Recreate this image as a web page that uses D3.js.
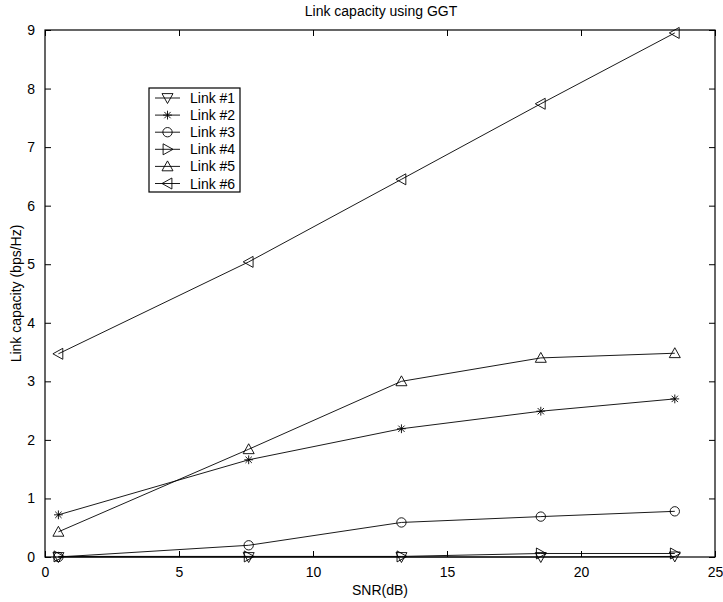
<!DOCTYPE html>
<html>
<head>
<meta charset="utf-8">
<script src="https://cdn.jsdelivr.net/npm/d3@7"></script>
<style>
  html, body { margin: 0; padding: 0; background: #fff; }
  svg text { font-family: "Liberation Sans", Arial, Helvetica, sans-serif; fill: #000; }
</style>
</head>
<body>
<svg id="chart" width="723" height="602"></svg>
<script>
// SNR sample points (dB)
const snr = [0.5, 7.6, 13.3, 18.5, 23.5];

// Link capacity per link (bps/Hz)
const link1 = [0.0, 0.0, 0.0, 0.0, 0.01];
const link2 = [0.72, 1.66, 2.19, 2.49, 2.70];
const link3 = [0.0, 0.2, 0.59, 0.69, 0.78];
const link4 = [0.01, 0.01, 0.01, 0.06, 0.06];
const link5 = [0.43, 1.84, 3.0, 3.40, 3.48];
const link6 = [3.47, 5.04, 6.45, 7.74, 8.95];

const seriesNames = ["Link #1", "Link #2", "Link #3", "Link #4", "Link #5", "Link #6"];
const seriesMarkers = ["triDown", "star", "circle", "triRight", "triUp", "triLeft"];
const seriesValues = [link1, link2, link3, link4, link5, link6];

const xTicks = [0, 5, 10, 15, 20, 25];
const yTicks = [0, 1, 2, 3, 4, 5, 6, 7, 8, 9];

const titleText = "Link capacity using GGT";
const xLabelText = "SNR(dB)";
const yLabelText = "Link capacity (bps/Hz)";

const W = 723, H = 602;
const margin = { left: 45, right: 8, top: 30, bottom: 45 };
const plotW = W - margin.left - margin.right;
const plotH = H - margin.top - margin.bottom;

const svg = d3.select("#chart");
const g = svg.append("g").attr("transform", `translate(${margin.left},${margin.top})`);

const x = d3.scaleLinear().domain([0, 25]).range([0, plotW]);
const y = d3.scaleLinear().domain([0, 9]).range([plotH, 0]);

const tickLen = 6;
const tickFont = 14;

// Axes with inward ticks, MATLAB-style box
const xAxisB = d3.axisBottom(x).tickValues(xTicks).tickSizeInner(-tickLen).tickSizeOuter(0).tickPadding(tickLen + 4);
const xAxisT = d3.axisTop(x).tickValues(xTicks).tickSizeInner(-tickLen).tickSizeOuter(0).tickFormat("");
const yAxisL = d3.axisLeft(y).tickValues(yTicks).tickSizeInner(-tickLen).tickSizeOuter(0).tickPadding(tickLen + 4);
const yAxisR = d3.axisRight(y).tickValues(yTicks).tickSizeInner(-tickLen).tickSizeOuter(0).tickFormat("");

function styleAxis(sel) {
  sel.select(".domain").remove();
  sel.selectAll(".tick line").attr("stroke", "#000").attr("stroke-width", 1);
  sel.selectAll(".tick text").attr("font-size", tickFont).attr("fill", "#000")
    .attr("font-family", "'Liberation Sans', Arial, sans-serif");
}

g.append("g").attr("transform", `translate(0,${plotH})`).call(xAxisB).call(styleAxis);
g.append("g").call(xAxisT).call(styleAxis);
g.append("g").call(yAxisL).call(styleAxis);
g.append("g").attr("transform", `translate(${plotW},0)`).call(yAxisR).call(styleAxis);

// Marker shapes
function markerPath(type, s) {
  const h = s / 2;
  switch (type) {
    case "triDown": return `M${-h},${-h * 0.8}L${h},${-h * 0.8}L0,${h}Z`;
    case "triUp": return `M${-h},${h * 0.8}L${h},${h * 0.8}L0,${-h}Z`;
    case "triRight": return `M${-h * 0.8},${-h}L${-h * 0.8},${h}L${h},0Z`;
    case "triLeft": return `M${h * 0.8},${-h}L${h * 0.8},${h}L${-h},0Z`;
    case "circle": {
      const r = h * 0.85;
      return `M${r},0A${r},${r} 0 1,1 ${-r},0A${r},${r} 0 1,1 ${r},0Z`;
    }
    case "star": {
      const r = h * 0.8, d = r * 0.72;
      return `M${-r},0L${r},0M0,${-r}L0,${r}M${-d},${-d}L${d},${d}M${-d},${d}L${d},${-d}`;
    }
  }
}

const line = d3.line().x((d, i) => x(snr[i])).y(d => y(d));
const plotArea = g.append("g");

seriesValues.forEach((vals, k) => {
  plotArea.append("path")
    .datum(vals)
    .attr("d", line)
    .attr("fill", "none")
    .attr("stroke", "#000")
    .attr("stroke-width", 0.9);
  plotArea.selectAll(null)
    .data(vals)
    .enter().append("path")
    .attr("transform", (d, i) => `translate(${x(snr[i])},${y(d)})`)
    .attr("d", markerPath(seriesMarkers[k], 11))
    .attr("fill", "none")
    .attr("stroke", "#000")
    .attr("stroke-width", 0.9);
});

// Plot box
g.append("rect")
  .attr("x", 0).attr("y", 0).attr("width", plotW).attr("height", plotH)
  .attr("fill", "none").attr("stroke", "#000").attr("stroke-width", 1.2);

// Legend
const leg = g.append("g").attr("transform", `translate(${149 - margin.left},${88 - margin.top})`);
const legW = 91, legH = 104, rowH = 17.1;
leg.append("rect").attr("width", legW).attr("height", legH)
  .attr("fill", "#fff").attr("stroke", "#000").attr("stroke-width", 1.2);
seriesNames.forEach((name, k) => {
  const ry = 10 + k * rowH;
  leg.append("line").attr("x1", 6).attr("x2", 31).attr("y1", ry).attr("y2", ry)
    .attr("stroke", "#000").attr("stroke-width", 0.9);
  leg.append("path").attr("transform", `translate(18.5,${ry})`)
    .attr("d", markerPath(seriesMarkers[k], 11))
    .attr("fill", "none").attr("stroke", "#000").attr("stroke-width", 0.9);
  leg.append("text").attr("x", 41).attr("y", ry).attr("dy", "0.36em")
    .attr("font-size", 14).text(name);
});

// Title and axis labels
svg.append("text").attr("x", 381).attr("y", 16)
  .attr("text-anchor", "middle").attr("font-size", 14).text(titleText);
svg.append("text").attr("x", 380).attr("y", 595)
  .attr("text-anchor", "middle").attr("font-size", 14).text(xLabelText);
svg.append("text")
  .attr("transform", `translate(21,${margin.top + plotH / 2}) rotate(-90)`)
  .attr("text-anchor", "middle").attr("font-size", 14).text(yLabelText);
</script>
</body>
</html>
